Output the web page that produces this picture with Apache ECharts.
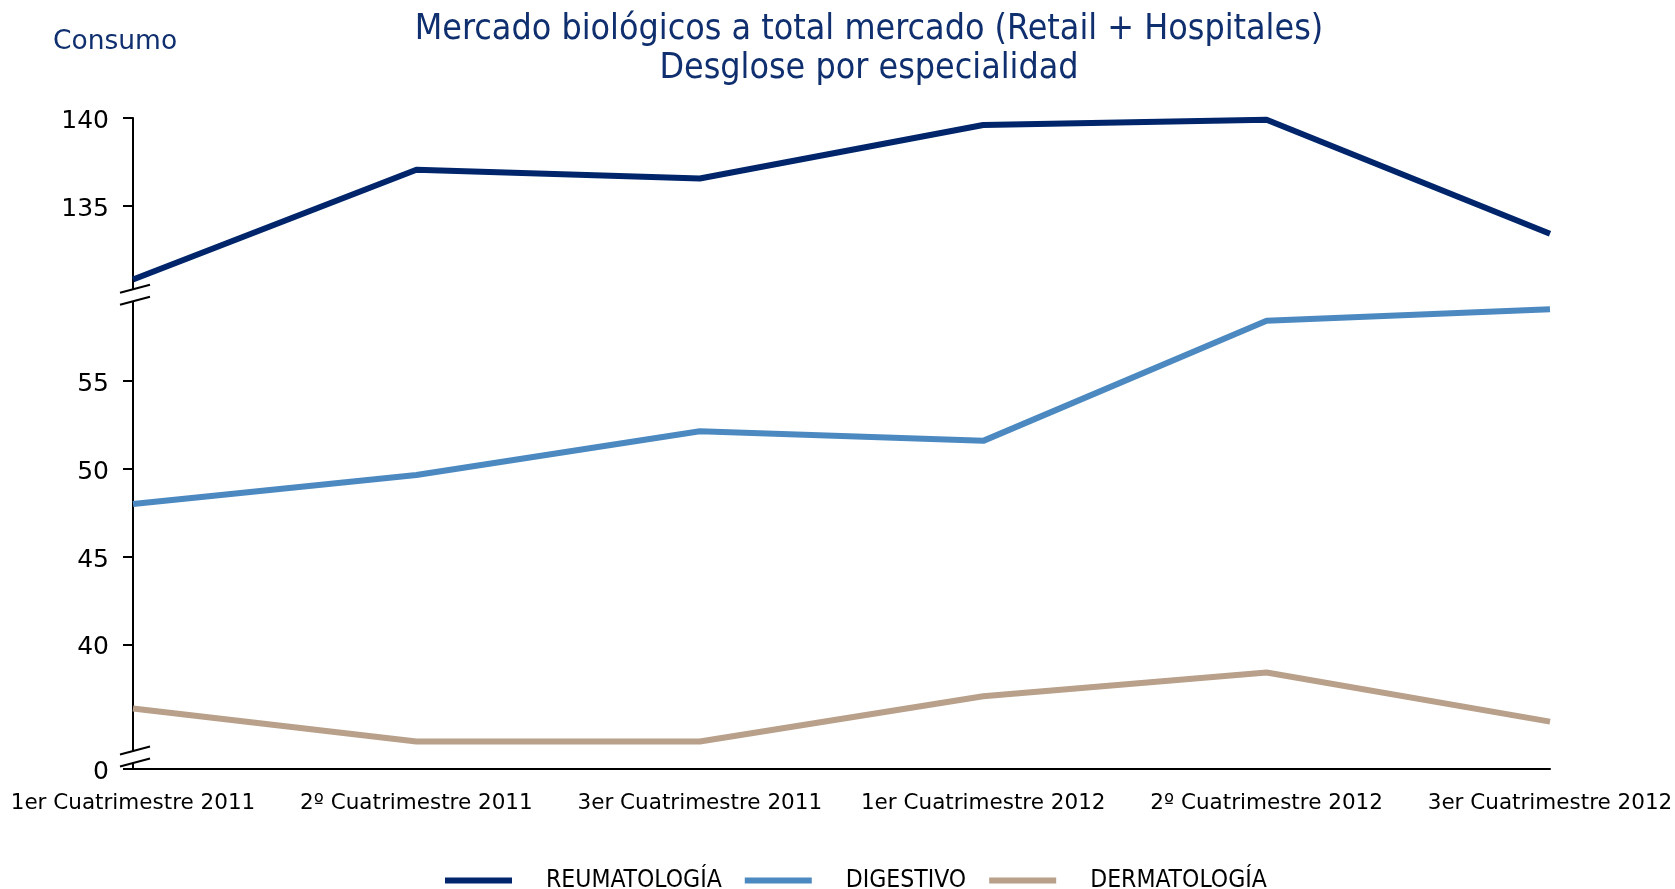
<!DOCTYPE html>
<html lang="es">
<head>
    <meta charset="UTF-8">
    <title>Mercado biológicos</title>
    <script src="https://cdn.jsdelivr.net/npm/echarts@6/dist/echarts.min.js"></script>
    <style>
        html, body { margin: 0; padding: 0; background: #fff; }
        #main { width: 1675px; height: 889px; }
    </style>
</head>
<body>
<div id="main"></div>
<script>
    // datos
    var categorias = ['1er Cuatrimestre 2011', '2º Cuatrimestre 2011', '3er Cuatrimestre 2011',
                      '1er Cuatrimestre 2012', '2º Cuatrimestre 2012', '3er Cuatrimestre 2012'];
    var reumatologia = [130.8, 137.05, 136.55, 139.6, 139.9, 133.4];
    var digestivo = [48.0, 49.65, 52.15, 51.6, 58.45, 59.1];
    var dermatologia = [36.35, 34.47, 34.47, 37.05, 38.4, 35.6];
    var yTicks = [0, 40, 45, 50, 55, 135, 140];

    var fuente = 'DejaVu Sans';
    var fuenteEstrecha = 'DejaVu Sans Condensed, DejaVu Sans';
    var azul = '#0f2f6e';

    var myChart = echarts.init(document.getElementById('main'));

    var option = {
        backgroundColor: '#fff',
        animation: false,
        title: [
            {
                text: 'Mercado biológicos a total mercado (Retail + Hospitales)\nDesglose por especialidad',
                left: 869,
                top: 11,
                textAlign: 'center',
                padding: 0,
                textStyle: {
                    fontFamily: fuenteEstrecha,
                    fontWeight: 'normal',
                    fontSize: 35.5,
                    lineHeight: 38.5,
                    color: azul
                }
            },
            {
                text: 'Consumo',
                left: 53,
                top: 29,
                padding: 0,
                textStyle: {
                    fontFamily: fuente,
                    fontWeight: 'normal',
                    fontSize: 26.5,
                    color: azul
                }
            }
        ],
        legend: {
            left: 445,
            top: 868,
            icon: 'rect',
            itemWidth: 67,
            itemHeight: 6,
            itemGap: 23,
            padding: 0,
            textStyle: {
                fontFamily: fuenteEstrecha,
                fontSize: 24.5,
                color: '#000',
                padding: [0, 0, 0, 29]
            },
            data: ['REUMATOLOGÍA', 'DIGESTIVO', 'DERMATOLOGÍA']
        },
        grid: {
            left: 133,
            right: 125,
            top: 118,
            bottom: 120,
            outerBoundsMode: 'none'
        },
        xAxis: {
            type: 'category',
            boundaryGap: false,
            data: categorias,
            axisLine: { lineStyle: { color: '#000', width: 2 } },
            axisTick: { show: false },
            axisLabel: {
                interval: 0,
                hideOverlap: false,
                margin: 23,
                fontFamily: fuente,
                fontSize: 21.5,
                color: '#000'
            },
            splitLine: { show: false }
        },
        yAxis: {
            type: 'value',
            min: 0,
            max: 140,
            breaks: [
                { start: 0, end: 32.9, gap: 0 },
                { start: 60, end: 130, gap: 0 }
            ],
            breakArea: { show: false },
            axisLine: { show: true, lineStyle: { color: '#000', width: 2 } },
            axisTick: {
                show: true,
                length: 10,
                customValues: yTicks,
                lineStyle: { color: '#000', width: 2 }
            },
            axisLabel: {
                customValues: yTicks,
                margin: 24,
                formatter: '{v|{value}}',
                rich: {
                    v: {
                        padding: [7, 0, 0, 0],
                        fontFamily: fuente,
                        fontSize: 25,
                        color: '#000'
                    }
                },
                fontFamily: fuente,
                fontSize: 25,
                color: '#000'
            },
            splitLine: { show: false }
        },
        series: [
            {
                name: 'REUMATOLOGÍA',
                type: 'line',
                symbol: 'none',
                data: reumatologia,
                itemStyle: { color: '#00256a' },
                lineStyle: { color: '#00256a', width: 6 }
            },
            {
                name: 'DIGESTIVO',
                type: 'line',
                symbol: 'none',
                data: digestivo,
                itemStyle: { color: '#4c89c0' },
                lineStyle: { color: '#4c89c0', width: 6 }
            },
            {
                name: 'DERMATOLOGÍA',
                type: 'line',
                symbol: 'none',
                data: dermatologia,
                itemStyle: { color: '#b8a08a' },
                lineStyle: { color: '#b8a08a', width: 6 }
            }
        ]
    };

    myChart.setOption(option);

    // marcas de corte en el eje vertical
    function marcaCorte(p) {
        var x = p[0], y = p[1];
        var k = 8 / 30;
        var sep = 6;
        var linea = function (dy) {
            return {
                type: 'line',
                z: 200,
                shape: { x1: x - 13, y1: y + dy + 13 * k, x2: x + 17, y2: y + dy - 17 * k },
                style: { stroke: '#000', lineWidth: 2 }
            };
        };
        return [
            {
                type: 'polygon',
                z: 199,
                shape: { points: [[x - 4, y - sep + 4 * k], [x + 4, y - sep - 4 * k],
                                  [x + 4, y + sep - 4 * k], [x - 4, y + sep + 4 * k]] },
                style: { fill: '#fff' }
            },
            linea(-sep),
            linea(sep)
        ];
    }

    var corteAlto = myChart.convertToPixel({ gridIndex: 0 }, [0, 59.9]);
    var corteBajo = myChart.convertToPixel({ gridIndex: 0 }, [0, 33.58]);
    myChart.setOption({
        graphic: marcaCorte(corteAlto).concat(marcaCorte(corteBajo))
    });
</script>
</body>
</html>
